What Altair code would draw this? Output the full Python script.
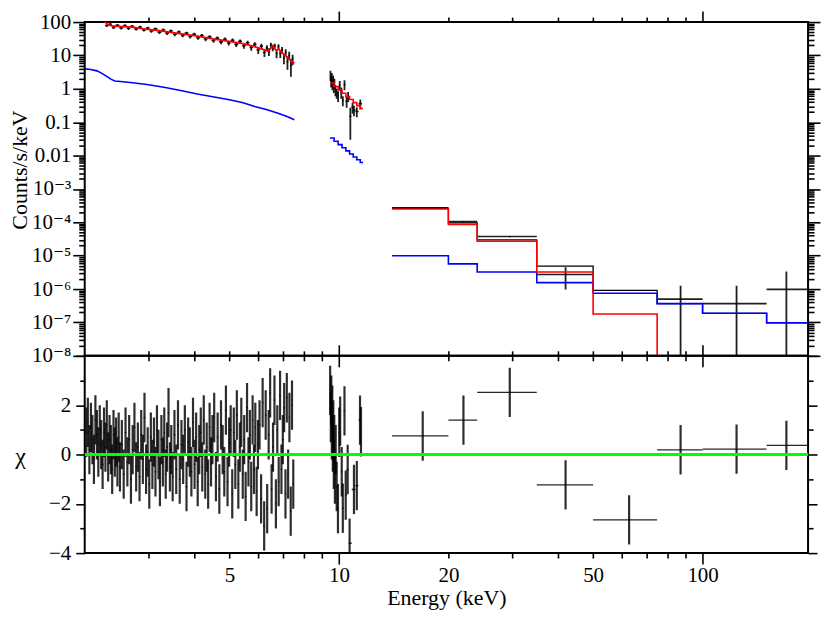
import altair as alt
import pandas as pd

FONT = "'Liberation Serif', 'DejaVu Serif', serif"
W = 726
H_TOP = 335
H_BOT = 198
X_DOMAIN = [2.0, 195.0]
Y_TOP_DOMAIN = [1e-8, 100.0]
Y_BOT_DOMAIN = [-4.0, 4.0]

# ---------------- top panel: data (keV, counts/s/keV, 1 sigma) ----------------
s1_energy = [2.05, 2.10, 2.15, 2.20, 2.25, 2.30, 2.35, 2.40, 2.46, 2.52, 2.58, 2.64, 2.70, 2.77,
             2.84, 2.91, 2.98, 3.05, 3.13, 3.21, 3.29, 3.37, 3.45, 3.54, 3.63, 3.72, 3.81, 3.90,
             4.00, 4.10, 4.20, 4.30, 4.41, 4.52, 4.63, 4.74, 4.86, 4.98, 5.10, 5.22, 5.35, 5.48,
             5.61, 5.74, 5.87, 6.00, 6.12, 6.24, 6.34, 6.42, 6.50, 6.58, 6.66, 6.74, 6.82, 6.90,
             6.98, 7.06, 7.14, 7.22, 7.30, 7.38, 7.46]
s1_rate = [182, 150, 166, 124, 114, 79, 85, 69, 80, 67, 78, 65, 75, 62,
           71, 58, 66, 54, 62.5, 50, 58, 46.5, 54, 43, 50.5, 40, 46.5, 37,
           43, 34, 39.5, 31, 36, 28, 33, 25.5, 30.5, 23.5, 28.5, 21.5, 26.5, 19.5,
           24, 17.2, 21.5, 14.5, 19, 12.2, 16.8, 13, 20.5, 17, 19, 11.5, 18.5, 11.5,
           14.8, 8.3, 12.5, 6.5, 10, 5.0, 7.8]
s1_err = [14, 14, 13, 11, 9, 7.5, 7, 7, 7, 7, 7, 6.8, 6.8, 6.5,
          6.5, 6.2, 6.2, 6, 6, 5.8, 5.8, 5.5, 5.5, 5.2, 5.2, 5.0, 5.0, 4.8,
          4.8, 4.6, 4.6, 4.4, 4.4, 4.2, 4.2, 4.0, 4.0, 3.8, 3.8, 3.7, 3.7, 3.6,
          3.6, 3.5, 3.5, 3.4, 3.4, 3.3, 3.3, 3.3, 3.5, 3.6, 3.4, 3.2, 3.3, 3.1,
          3.0, 2.9, 2.9, 2.8, 2.8, 2.7, 2.7]

s2_energy = [9.48, 9.52, 9.56, 9.60, 9.64, 9.68, 9.72, 9.78, 9.86, 9.95, 10.05, 10.15, 10.25,
             10.36, 10.50, 10.60, 10.75, 10.90, 11.00, 11.20, 11.45]
s2_rate = [2.6, 1.7, 2.3, 1.4, 1.9, 1.15, 1.5, 0.95, 0.75, 0.62, 1.3, 0.8, 0.45,
           1.35, 0.42, 0.6, 0.15, 0.28, 0.23, 0.21, 0.36]
s2_err = [0.9, 0.6, 0.7, 0.5, 0.6, 0.4, 0.5, 0.35, 0.25, 0.22, 0.4, 0.3, 0.15,
          0.45, 0.15, 0.2, 0.12, 0.1, 0.08, 0.07, 0.12]

hx_lo = [14, 20, 24, 35, 75, 100, 150]
hx_hi = [20, 24, 35, 50, 100, 150, 195]
hx_energy = [17.0, 22.0, 29.5, 42.0, 87.0, 124.0, 170.0]
hx_rate = [2.72e-4, 1.05e-4, 3.75e-5, 2.72e-6, 5.0e-7, 3.67e-7, 9.8e-7]
hx_err = [6e-6, 4e-6, 1.5e-6, 1.75e-6, 7.6e-7, 8.9e-7, 2.4e-6]

# ---------------- top panel: models ----------------
red_s1_energy = [2.03, 2.12, 2.20, 2.26, 2.31, 2.36, 2.42, 2.55, 2.70, 2.94, 3.20, 3.61, 4.00,
                 4.42, 5.00, 5.44, 5.80, 6.15, 6.39, 6.50, 6.59, 6.68, 6.74, 6.83, 6.95, 7.10,
                 7.30, 7.54]
red_s1_value = [175, 165, 140, 108, 86, 78, 75, 73, 70, 61, 55, 45.5, 39,
                32.5, 26.5, 22.5, 19, 15.5, 13.4, 16.5, 19.8, 15.2, 14.1, 15.7, 12.6, 10.1,
                7.9, 5.8]
blue_s1_energy = [2.00, 2.08, 2.16, 2.23, 2.30, 2.36, 2.42, 2.55, 2.71, 3.00, 3.33, 3.70, 4.08,
                  4.50, 5.00, 5.45, 5.90, 6.35, 6.80, 7.20, 7.54]
blue_s1_value = [3.95, 3.8, 3.45, 2.9, 2.35, 1.95, 1.72, 1.62, 1.52, 1.32, 1.09, 0.88, 0.70,
                 0.58, 0.47, 0.38, 0.29, 0.235, 0.185, 0.148, 0.118]

s2_model_edges = [9.45, 9.70, 9.95, 10.20, 10.45, 10.70, 10.95, 11.20, 11.45, 11.65]
red_s2_value = [1.49, 1.17, 0.92, 0.74, 0.59, 0.48, 0.385, 0.313, 0.258]
blue_s2_value = [0.0337, 0.0269, 0.0213, 0.0172, 0.0138, 0.0112, 0.0091, 0.0075, 0.0062]

hi_model_edges = [14, 20, 24, 35, 50, 75, 100, 150, 195]
total_hi_value = [2.6e-4, 9.6e-5, 3.0e-5, 4.85e-6, 9.1e-7, 3.67e-7, 1.88e-7, 9.8e-8]
blue_hi_value = [1.0e-5, 5.7e-6, 3.25e-6, 1.56e-6, 7.5e-7, 3.67e-7, 1.88e-7, 9.8e-8]
red_hi_value = [2.5e-4, 8.6e-5, 2.7e-5, 3.26e-6, 1.8e-7]   # vanishes above 75 keV
RED_FLOOR = 1e-12

# ---------------- bottom panel: residuals (chi) ----------------
r1_energy = [2.02, 2.04, 2.06, 2.08, 2.10, 2.12, 2.14, 2.16, 2.18, 2.20, 2.22, 2.24, 2.26, 2.28,
             2.30, 2.32, 2.34, 2.36, 2.38, 2.40, 2.42, 2.44, 2.46, 2.48, 2.50,
             2.53, 2.56, 2.59, 2.62, 2.65, 2.68, 2.71, 2.74, 2.77, 2.80, 2.83, 2.86, 2.89, 2.92,
             2.95, 2.98, 3.01, 3.04, 3.07, 3.10, 3.13, 3.16, 3.19, 3.22, 3.25, 3.28, 3.31, 3.34,
             3.37, 3.40, 3.43, 3.46, 3.49,
             3.53, 3.57, 3.61, 3.65, 3.69, 3.73, 3.77, 3.81, 3.85, 3.89, 3.93, 3.97, 4.01, 4.05,
             4.09, 4.13, 4.17, 4.21, 4.25, 4.29, 4.33, 4.37, 4.41, 4.45, 4.49,
             4.54, 4.59, 4.64, 4.69, 4.74, 4.79, 4.84, 4.89, 4.94, 4.99, 5.04, 5.09, 5.14, 5.19,
             5.24, 5.29, 5.34, 5.39, 5.44, 5.49, 5.54, 5.59, 5.64, 5.69, 5.74, 5.79, 5.84, 5.89,
             5.94, 5.99,
             6.05, 6.11, 6.17, 6.23, 6.29, 6.35, 6.41, 6.47, 6.53, 6.59, 6.65, 6.71, 6.77, 6.83,
             6.89, 6.95, 7.01, 7.07, 7.13, 7.19, 7.25, 7.31, 7.37, 7.43, 7.49]
r1_chi = [0.9, 1.3, 0.2, 1.1, 0.6, -0.2, 1.4, 0.8, 0.1, 1.0, 0.4, -0.4, 0.9, 0.3, 1.2, -0.1,
          0.6, 0.2, -0.6, 0.8, 0.1, 0.5, -0.3, 0.7, -0.5,
          0.4, -0.8, 0.9, -0.3, 0.6, -1.0, 0.2, 1.1, -0.5, 0.3, -0.9, 0.8, -0.2, 1.5, -0.6,
          0.1, -1.2, 0.7, -0.4, 0.5, -0.7, 1.0, 0.0, -1.1, 0.6, -0.3, 0.9, -0.8, 0.3, 1.7,
          -0.5, 0.2, -0.9,
          0.8, -0.6, 1.2, -1.0, 0.4, -0.2, 1.0, -1.3, 0.5, 0.1, -0.7, 1.3, -0.4, 0.7, -1.1,
          0.2, 0.9, -0.5, 1.4, -0.8, 0.3, -1.2, 1.1, -0.3, 0.6,
          1.5, -0.9, 0.7, -1.4, 1.2, 0.2, -0.7, 1.8, -1.1, 0.5, 1.0, -1.6, 0.9, -0.4, 1.6,
          -1.2, 0.3, 1.3, -0.8, 0.6, -1.7, 1.9, -0.3, 0.8, -1.3, 1.4, -0.6, 1.1, -1.5, 0.4,
          1.2, -1.8, 2.1, -2.9, 1.6, -2.2, 0.8, 2.5, -1.4, 0.3, 2.2, -2.0, 1.0, -1.1, 2.4,
          -0.6, 0.6, 1.9, -1.6, 2.3, -0.8, 1.5, -2.3, 2.0, -1.2]

r2_energy = [9.46, 9.50, 9.53, 9.56, 9.59, 9.62, 9.65, 9.68, 9.71, 9.75, 9.80, 9.86, 9.94,
             10.02, 10.08, 10.18, 10.25, 10.36, 10.44, 10.57, 10.70, 11.00, 11.20, 11.43, 11.50]
r2_chi = [2.6, 1.5, 2.2, 0.8, 1.8, 0.3, 1.2, -0.4, 0.6, -1.0, 0.2, -1.3, -2.2,
          0.9, 1.35, -0.7, -2.18, 1.77, -1.65, -0.61, -3.6, -1.42, -1.26, 1.39, 0.92]

rh_lo = [14, 20, 24, 35, 50, 75, 100, 150]
rh_hi = [20, 24, 35, 50, 75, 100, 150, 195]
rh_energy = [17.0, 22.0, 29.5, 42.0, 62.8, 87.0, 124.0, 170.0]
rh_chi = [0.75, 1.39, 2.52, -1.23, -2.65, 0.19, 0.22, 0.37]

# ---------------- axis tick values / labels ----------------
x_major_ticks = [10, 100]
x_minor_ticks = [3, 4, 5, 6, 7, 8, 9, 20, 30, 40, 50, 60, 70, 80, 90]
x_label_values = [5, 10, 20, 50, 100]
y_top_decades = [1e-8, 1e-7, 1e-6, 1e-5, 1e-4, 1e-3, 0.01, 0.1, 1, 10, 100]
y_top_labels = ["10\u207b\u2078", "10\u207b\u2077", "10\u207b\u2076", "10\u207b\u2075",
                "10\u207b\u2074", "10\u207b\u00b3", "0.01", "0.1", "1", "10", "100"]
y_top_minor = [m * d for d in y_top_decades[:-1] for m in range(2, 10)]
y_bot_major = [-4, -2, 0, 2, 4]
y_bot_minor = [-3, -1, 1, 3]


# ---------------- tables ----------------
def bin_edges(c):
    lo, hi = [], []
    n = len(c)
    for i in range(n):
        left = (c[i - 1] + c[i]) / 2 if i > 0 else c[i] - (c[1] - c[0]) / 2
        right = (c[i] + c[i + 1]) / 2 if i < n - 1 else c[i] + (c[i] - c[i - 1]) / 2
        lo.append(left)
        hi.append(right)
    return lo, hi


def step_rows(edges, values, seg):
    out = [dict(E=edges[i], v=values[i], seg=seg) for i in range(len(values))]
    out.append(dict(E=edges[len(values)], v=values[-1], seg=seg))
    return out


rows = []
for E, V, S in ((s1_energy, s1_rate, s1_err), (s2_energy, s2_rate, s2_err)):
    lo, hi = bin_edges(E)
    for i in range(len(E)):
        rows.append(dict(E=E[i], xlo=lo[i], xhi=hi[i], v=V[i],
                         ylo=max(V[i] - S[i], 1e-12), yhi=V[i] + S[i]))
for i in range(len(hx_energy)):
    rows.append(dict(E=hx_energy[i], xlo=hx_lo[i], xhi=hx_hi[i], v=hx_rate[i],
                     ylo=max(hx_rate[i] - hx_err[i], 1e-12), yhi=hx_rate[i] + hx_err[i]))
df_data = pd.DataFrame(rows)

df_total = pd.DataFrame(step_rows(hi_model_edges, total_hi_value, "hi"))
df_blue_step = pd.DataFrame(step_rows(s2_model_edges, blue_s2_value, "s2") +
                            step_rows(hi_model_edges, blue_hi_value, "hi"))
red_hi_rows = [dict(E=hi_model_edges[i], v=red_hi_value[i], seg="hi") for i in range(len(red_hi_value))]
red_hi_rows.append(dict(E=hi_model_edges[len(red_hi_value)], v=RED_FLOOR, seg="hi"))
df_red_step = pd.DataFrame(step_rows(s2_model_edges, red_s2_value, "s2") + red_hi_rows)
df_red_s1 = pd.DataFrame(dict(E=red_s1_energy, v=red_s1_value))
df_blue_s1 = pd.DataFrame(dict(E=blue_s1_energy, v=blue_s1_value))

rrows = []
for E, C in ((r1_energy, r1_chi), (r2_energy, r2_chi)):
    lo, hi = bin_edges(E)
    for i in range(len(E)):
        rrows.append(dict(E=E[i], xlo=lo[i], xhi=hi[i], chi=C[i], clo=C[i] - 1, chi_hi=C[i] + 1))
for i in range(len(rh_energy)):
    rrows.append(dict(E=rh_energy[i], xlo=rh_lo[i], xhi=rh_hi[i], chi=rh_chi[i],
                      clo=rh_chi[i] - 1, chi_hi=rh_chi[i] + 1))
df_res = pd.DataFrame(rrows)
df_zero = pd.DataFrame(dict(E=X_DOMAIN, v=[0.0, 0.0]))

# ---------------- scales & axes ----------------
xs = alt.Scale(type="log", domain=X_DOMAIN, nice=False)
ys_top = alt.Scale(type="log", domain=Y_TOP_DOMAIN, nice=False)
ys_bot = alt.Scale(type="linear", domain=Y_BOT_DOMAIN, nice=False, zero=False)


def tick_ax(orient, values, size):
    return alt.Axis(orient=orient, values=values, ticks=True, tickSize=size, tickWidth=1.6,
                    tickColor="black", labels=False, domain=False, grid=False, title=None)


label_expr_top = "[" + ",".join("'" + s + "'" for s in y_top_labels) + "][round(log(datum.value)/LN10)+8]"

AX_Y_TOP = alt.Axis(orient="left", values=y_top_decades, labelExpr=label_expr_top,
                    ticks=True, tickSize=12, tickWidth=1.6, tickColor="black",
                    domain=False, grid=False, labelOverlap=False,
                    labelFont=FONT, labelFontSize=21, labelColor="black", labelPadding=2,
                    title="Counts/s/keV", titleFont=FONT, titleFontSize=22,
                    titleFontWeight="normal", titleColor="black", titleX=-65, titleY=148,
                    titleBaseline="middle")
AX_Y_BOT = alt.Axis(orient="left", values=y_bot_major,
                    labelExpr="datum.value == 4 ? '' : format(datum.value, 'd')",
                    ticks=True, tickSize=9, tickWidth=1.6, tickColor="black",
                    domain=False, grid=False, labelOverlap=False,
                    labelFont=FONT, labelFontSize=21, labelColor="black", labelPadding=5,
                    title="\u03c7", titleFont=FONT, titleFontSize=24, titleAngle=0,
                    titleFontWeight="normal", titleColor="black", titleX=-65, titleY=101,
                    titleBaseline="middle", titleAlign="center")
AX_X_BOT = alt.Axis(orient="bottom", values=x_label_values, format="d",
                    ticks=False, tickSize=0, domain=False, grid=False, labelOverlap=False,
                    labelFlush=False,
                    labelFont=FONT, labelFontSize=21, labelColor="black", labelPadding=12,
                    title="Energy (keV)", titleFont=FONT, titleFontSize=22,
                    titleFontWeight="normal", titleColor="black", titlePadding=2)

# ---------------- top panel (one axis per layer, independent axes) ----------------
total_layer = alt.Chart(df_total).mark_line(
    interpolate="step-after", color="black", strokeWidth=1.3, clip=True).encode(
    x=alt.X("E:Q", scale=xs, axis=tick_ax("top", x_major_ticks, 11)),
    y=alt.Y("v:Q", scale=ys_top, axis=AX_Y_TOP),
    detail="seg:N")

data_v = alt.Chart(df_data).mark_rule(color="black", strokeWidth=1.8, opacity=0.88, clip=True).encode(
    x=alt.X("E:Q", scale=xs, axis=tick_ax("top", x_minor_ticks, 5)),
    y=alt.Y("ylo:Q", scale=ys_top, axis=tick_ax("left", y_top_minor, 6)),
    y2="yhi:Q")

data_h = alt.Chart(df_data).mark_rule(color="black", strokeWidth=1.6, opacity=0.88, clip=True).encode(
    x=alt.X("xlo:Q", scale=xs, axis=tick_ax("bottom", x_major_ticks, 11)),
    x2="xhi:Q",
    y=alt.Y("v:Q", scale=ys_top, axis=tick_ax("right", y_top_decades, 12)))

blue_s1 = alt.Chart(df_blue_s1).mark_line(color="#0000ff", strokeWidth=1.6, clip=True).encode(
    x=alt.X("E:Q", scale=xs, axis=tick_ax("bottom", x_minor_ticks, 5)),
    y=alt.Y("v:Q", scale=ys_top, axis=tick_ax("right", y_top_minor, 6)))
blue_step = alt.Chart(df_blue_step).mark_line(
    interpolate="step-after", color="#0000ff", strokeWidth=1.6, clip=True).encode(
    x=alt.X("E:Q", scale=xs, axis=None), y=alt.Y("v:Q", scale=ys_top, axis=None), detail="seg:N")
red_s1 = alt.Chart(df_red_s1).mark_line(color="#ff0000", strokeWidth=1.8, clip=True).encode(
    x=alt.X("E:Q", scale=xs, axis=None), y=alt.Y("v:Q", scale=ys_top, axis=None))
red_step = alt.Chart(df_red_step).mark_line(
    interpolate="step-after", color="#ff0000", strokeWidth=1.6, clip=True).encode(
    x=alt.X("E:Q", scale=xs, axis=None), y=alt.Y("v:Q", scale=ys_top, axis=None), detail="seg:N")

top = alt.layer(total_layer, data_v, data_h, blue_s1, blue_step, red_s1, red_step).resolve_axis(
    x="independent", y="independent").properties(width=W, height=H_TOP)

# ---------------- bottom panel ----------------
res_v = alt.Chart(df_res).mark_rule(color="black", strokeWidth=2.2, opacity=0.82, clip=True).encode(
    x=alt.X("E:Q", scale=xs, axis=AX_X_BOT),
    y=alt.Y("clo:Q", scale=ys_bot, axis=AX_Y_BOT),
    y2="chi_hi:Q")
res_h = alt.Chart(df_res).mark_rule(color="black", strokeWidth=1.3, opacity=0.85, clip=True).encode(
    x=alt.X("xlo:Q", scale=xs, axis=tick_ax("bottom", x_major_ticks, 11)),
    x2="xhi:Q",
    y=alt.Y("chi:Q", scale=ys_bot, axis=tick_ax("left", y_bot_minor, 5)))
zero = alt.Chart(df_zero).mark_line(color="#00ff00", strokeWidth=3, clip=True).encode(
    x=alt.X("E:Q", scale=xs, axis=tick_ax("bottom", x_minor_ticks, 5)),
    y=alt.Y("v:Q", scale=ys_bot, axis=tick_ax("right", y_bot_major, 9)))
# invisible carriers for the remaining frame tick axes
carrier1 = alt.Chart(df_zero).mark_line(opacity=0).encode(
    x=alt.X("E:Q", scale=xs, axis=tick_ax("top", x_major_ticks, 11)),
    y=alt.Y("v:Q", scale=ys_bot, axis=tick_ax("right", y_bot_minor, 5)))
carrier2 = alt.Chart(df_zero).mark_line(opacity=0).encode(
    x=alt.X("E:Q", scale=xs, axis=tick_ax("top", x_minor_ticks, 5)),
    y=alt.Y("v:Q", scale=ys_bot, axis=None))

bot = alt.layer(res_v, res_h, zero, carrier1, carrier2).resolve_axis(
    x="independent", y="independent").properties(width=W, height=H_BOT)

chart = alt.vconcat(top, bot, spacing=0, bounds="flush").resolve_scale(
    x="independent", y="independent").properties(
    padding={"left": 0, "top": 0, "right": 1, "bottom": 0}).configure_view(
    stroke="black", strokeWidth=2).configure_axis(grid=False)

chart.save("out.html", embed_options={"renderer": "svg", "actions": False})
